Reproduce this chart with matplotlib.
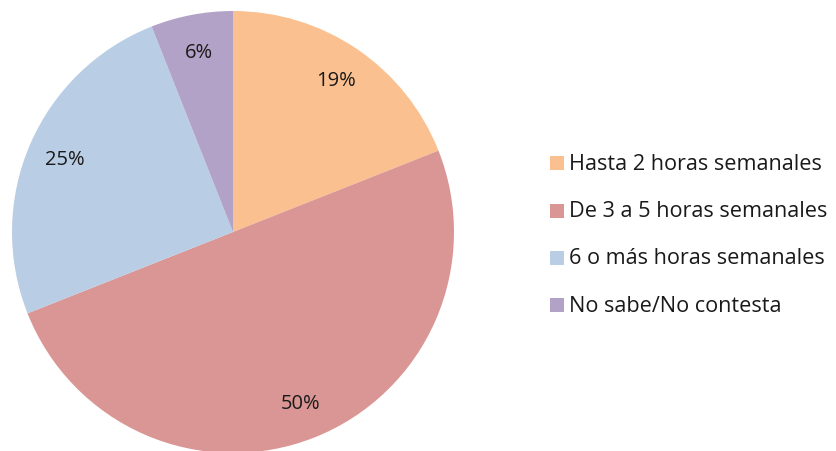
import matplotlib
matplotlib.use("Agg")
import matplotlib.pyplot as plt
from matplotlib.patches import Rectangle

categories = ["Hasta 2 horas semanales", "De 3 a 5 horas semanales",
              "6 o más horas semanales", "No sabe/No contesta"]
values = [19, 50, 25, 6]
colors = ["#FAC090", "#D99694", "#B9CDE5", "#B3A2C7"]

plt.rcParams['font.family'] = ['Open Sans', 'DejaVu Sans']

W, H = 837, 452
fig = plt.figure(figsize=(W / 100, H / 100), dpi=100)
cx, cy, r = 233, 233, 221
ax = fig.add_axes([(cx - r) / W, (H - cy - r) / H, 2 * r / W, 2 * r / H])
ax.pie(values, colors=colors, startangle=90, counterclock=False,
       labels=None, autopct=lambda p: f"{p:.0f}%", pctdistance=0.83,
       textprops=dict(fontsize=14.5, color="#1a1a1a"),
       wedgeprops=dict(linewidth=0))
ax.set_xlim(-1, 1)
ax.set_ylim(-1, 1)
ax.set_aspect('equal')
ax.axis('off')

rows_y = [164, 212, 259, 306]
for cat, col, y in zip(categories, colors, rows_y):
    fig.patches.append(Rectangle((550 / W, (H - y - 7) / H), 14 / W, 14 / H,
                                 transform=fig.transFigure, facecolor=col,
                                 edgecolor='none'))
    fig.text(569 / W, (H - y) / H, cat, fontsize=15.6, va='center', ha='left',
             color="#1a1a1a")

fig.savefig("out.png", dpi=100)
